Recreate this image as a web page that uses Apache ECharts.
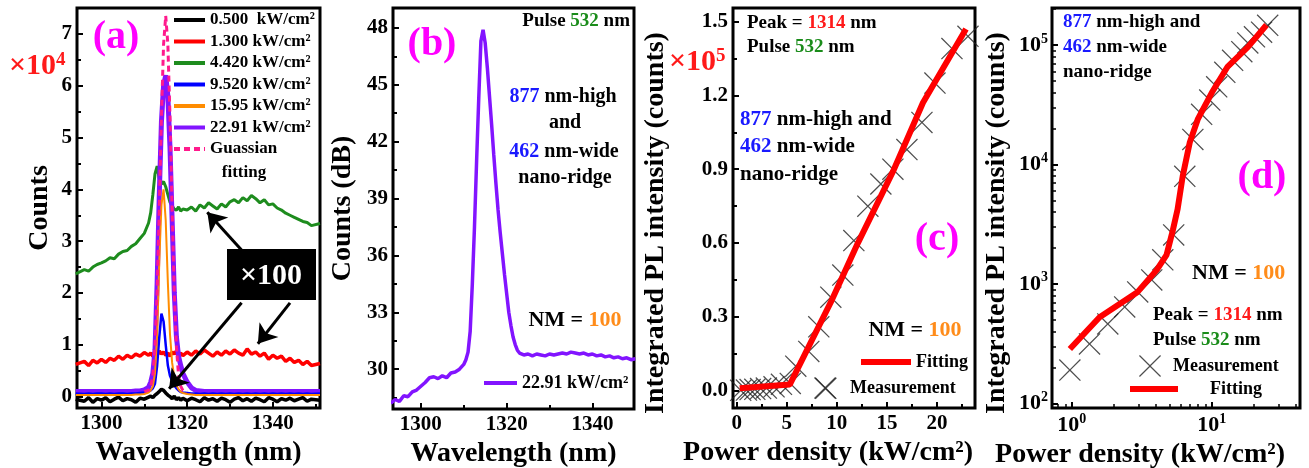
<!DOCTYPE html>
<html>
<head>
<meta charset="utf-8">
<script src="https://cdn.jsdelivr.net/npm/echarts@6/dist/echarts.min.js"></script>
<style>html,body{margin:0;padding:0;background:#fff;}#main{width:1309px;height:468px;}</style>
</head>
<body>
<div id="main"></div>
<script>
var serif = '"Liberation Serif", "Times New Roman", serif';

// (a) spectra, counts in units of 1e4
var aWl = [1294,1296,1297,1298,1299,1300,1301,1302,1303,1304,1305,1306,1307,1308,1309,1310,1311,
  1311.5,1312,1312.5,1313,1313.5,1314,1314.5,1315,1315.5,1316,1316.5,1317,1317.5,1318,1318.5,1319,
  1320,1321,1322,1323,1324,1325,1326,1327,1328,1329,1330,1331,1332,1333,1334,1335,1336,1337,1338,1339,1340,1341,1342,1343,1344,1345,1346,1347,1348,1349,1351];
var aP0500 = [-0.05,-0.09,-0.02,-0.11,-0.04,-0.07,-0.02,-0.1,-0.05,-0.01,-0.08,-0.04,-0.06,-0.11,-0.03,-0.05,-0.01,
  0.01,-0.02,0.03,0.06,0.1,0.14,0.12,0.07,0.03,0.0,-0.04,0.01,-0.06,-0.02,-0.07,-0.03,
  -0.08,-0.03,-0.06,-0.1,-0.02,-0.07,-0.04,-0.09,-0.03,-0.06,-0.11,-0.05,-0.02,-0.08,-0.04,-0.09,-0.03,-0.06,-0.1,-0.02,-0.05,-0.1,-0.04,-0.07,-0.03,-0.08,-0.05,-0.02,-0.09,-0.05,-0.07];
var aP1300 = [0.62,0.68,0.6,0.7,0.65,0.72,0.66,0.74,0.7,0.78,0.72,0.8,0.75,0.82,0.78,0.85,0.8,
  0.84,0.78,0.86,0.8,0.88,0.82,0.86,0.8,0.84,0.78,0.86,0.82,0.88,0.8,0.84,0.79,
  0.86,0.8,0.88,0.82,0.9,0.84,0.78,0.86,0.8,0.88,0.82,0.9,0.84,0.8,0.92,0.82,0.86,0.78,0.84,0.72,0.8,0.74,0.78,0.68,0.74,0.66,0.7,0.62,0.68,0.6,0.64];
var aP4420 = [2.37,2.45,2.42,2.5,2.55,2.58,2.62,2.68,2.66,2.75,2.8,2.82,2.9,2.95,3.05,3.15,3.35,
  3.55,3.9,4.3,4.45,4.2,4.1,4.15,4.05,3.9,3.75,3.68,3.62,3.6,3.66,3.58,3.62,
  3.6,3.66,3.58,3.7,3.64,3.74,3.68,3.62,3.72,3.66,3.76,3.8,3.74,3.84,3.78,3.88,3.82,3.74,3.8,3.7,3.72,3.64,3.6,3.54,3.5,3.46,3.42,3.38,3.36,3.3,3.34];
var aP9520 = [0.06,0.05,0.06,0.05,0.06,0.06,0.05,0.06,0.05,0.06,0.06,0.05,0.06,0.06,0.07,0.08,0.1,
  0.12,0.16,0.25,0.6,1.15,1.6,1.45,1.0,0.6,0.4,0.3,0.22,0.16,0.12,0.09,0.08,
  0.07,0.06,0.06,0.05,0.06,0.05,0.06,0.05,0.06,0.05,0.06,0.05,0.06,0.05,0.06,0.05,0.06,0.05,0.06,0.05,0.06,0.05,0.06,0.05,0.06,0.05,0.06,0.05,0.06,0.05,0.06];
var aP1595 = [0.03,0.03,0.03,0.03,0.03,0.03,0.03,0.03,0.03,0.03,0.03,0.03,0.03,0.04,0.04,0.05,0.08,
  0.12,0.2,0.45,1.2,2.6,3.7,4.0,3.4,2.2,1.2,0.65,0.38,0.22,0.14,0.09,0.07,
  0.05,0.04,0.03,0.03,0.03,0.03,0.03,0.03,0.03,0.03,0.03,0.03,0.03,0.03,0.03,0.03,0.03,0.03,0.03,0.03,0.03,0.03,0.03,0.03,0.03,0.03,0.03,0.03,0.03,0.03,0.03];
var aP2291 = [0.1,0.1,0.1,0.1,0.1,0.1,0.1,0.1,0.1,0.1,0.1,0.1,0.1,0.11,0.11,0.13,0.18,
  0.28,0.45,0.9,2.2,3.9,5.3,6.0,6.2,5.8,4.8,3.4,2.0,1.15,0.78,0.6,0.45,
  0.28,0.17,0.12,0.11,0.1,0.1,0.1,0.1,0.1,0.1,0.1,0.1,0.1,0.1,0.1,0.1,0.1,0.1,0.1,0.1,0.1,0.1,0.1,0.1,0.1,0.1,0.1,0.1,0.1,0.1,0.1];
var gaussWl = [1310,1311,1311.5,1312,1312.5,1313,1313.5,1314,1314.5,1315,1315.5,1316,1316.5,1317,1317.5,1318,1318.5,1319,1320];
var gaussFit = [0.1,0.12,0.2,0.4,0.95,2.0,3.6,5.4,6.8,7.35,6.8,5.4,3.6,2.0,0.95,0.4,0.2,0.12,0.1];
var aNames = ['0.500  kW/cm²','1.300 kW/cm²','4.420 kW/cm²','9.520 kW/cm²','15.95 kW/cm²','22.91 kW/cm²','Guassian fitting'];
// arrows from the x100 box: [fromWl, fromY, toWl, toY]
var arrowsA = [[1332.9,2.81,1324.7,3.56],[1344,1.81,1336.5,1.02],[1332.7,1.81,1315.8,0.15]];

// (b) spectrum in dB
var bWl = [1293,1294,1295,1296,1297,1298,1299,1300,1301,1302,1303,1304,1305,1306,1307,1308,1309,1310,1310.5,1311,
  1311.5,1312,1312.5,1313,1313.5,1314,1314.5,1315,1315.5,1316,1316.5,1317,1317.5,1318,1318.5,1319,1319.5,1320,1320.5,1321,1321.5,1322,1322.5,1323,1324,1325,
  1326,1327,1328,1329,1330,1331,1332,1333,1334,1335,1336,1337,1338,1339,1340,1341,1342,1343,1344,1345,1346,1347,1348,1349,1350];
var bDb = [28.2,28.4,28.3,28.6,28.55,28.8,28.9,29.1,29.3,29.55,29.6,29.5,29.65,29.55,29.8,29.85,30.0,30.25,30.5,30.9,
  32.0,34.5,37.5,41.0,44.3,47.3,47.9,47.2,45.9,44.4,42.9,41.3,39.8,38.4,37.2,36.1,35.0,34.0,33.0,32.3,31.7,31.3,31.0,30.85,30.75,30.8,
  30.7,30.8,30.75,30.7,30.8,30.75,30.8,30.85,30.8,30.9,30.85,30.8,30.85,30.75,30.8,30.7,30.75,30.65,30.7,30.6,30.65,30.55,30.6,30.5,30.55];

// (c) integrated intensity, units of 1e5
var cPow = [0.4,0.97,1.34,1.81,2.39,2.96,3.73,4.47,5.35,5.9,7.2,8.2,9.4,10.6,11.7,13.1,14.4,15.6,17.0,18.5,19.8,21.5,23.1,8.9];
var cInt = [0.002,0.003,0.005,0.006,0.009,0.011,0.016,0.026,0.03,0.10,0.16,0.26,0.38,0.47,0.61,0.75,0.84,0.90,0.98,1.09,1.25,1.39,1.44,0.01];
var cFitPow = [0.3,5.3,9.4,12.1,15.6,18.6,22.9];
var cFitInt = [0.01,0.025,0.36,0.6,0.89,1.17,1.47];

// (d) log-log
var dPow = [0.97,1.34,1.81,2.39,2.96,3.73,4.47,5.35,6.42,7.33,8.47,9.68,10.85,12.4,14.1,16.4,18.1,20.2,22.7,25.1];
var dInt = [190,314,462,642,857,1080,1590,2570,7950,16200,26300,34600,44700,59000,74500,87900,104000,117000,128000,146000];
var dFitPow = [0.97,1.58,2.96,4.05,4.76,5.27,5.7,6.2,6.97,7.94,10,13,18.1,24.6];
var dFitInt = [285,525,857,1310,1750,2800,4200,7950,15300,23800,39800,66000,96000,147000];

function pairs(xs, ys) {
  return xs.map(function (x, i) { return [x, ys[i]]; });
}
function font(size, weight) {
  return (weight || 'bold') + ' ' + size + 'px ' + serif;
}
function richSet(size) {
  return {
    r: { fill: '#ff1a1a', font: font(size) },
    g: { fill: '#1a8c1a', font: font(size) },
    b: { fill: '#1a1aff', font: font(size) },
    o: { fill: '#ff8c1a', font: font(size) },
    s: { fill: '#ff1a1a', font: font(Math.round(size * 0.62)), verticalAlign: 'top' }
  };
}
function txt(x, y, text, size, align, color) {
  return {
    type: 'text', x: x, y: y, silent: true, z: 100,
    style: { text: text, font: font(size), fill: color || '#000', align: align || 'left', verticalAlign: 'middle', rich: richSet(size) }
  };
}
function every(step, digits) {
  return function (v) {
    var k = v / step;
    if (Math.abs(k - Math.round(k)) > 1e-6) return '';
    return digits ? v.toFixed(digits) : String(Math.round(v));
  };
}
function logLabel(v) {
  var e = Math.log10(v), r = Math.round(e);
  if (Math.abs(e - r) > 1e-6) return '';
  return '{n|10}{s|' + r + '}';
}

var nameStyle = { fontFamily: serif, fontWeight: 'bold', fontSize: 28, color: '#000' };
var labelStyle = { fontFamily: serif, fontWeight: 'bold', fontSize: 21, color: '#000', margin: 5 };
var logRich = {
  n: { fontFamily: serif, fontWeight: 'bold', fontSize: 22, color: '#000', lineHeight: 26 },
  s: { fontFamily: serif, fontWeight: 'bold', fontSize: 14, color: '#000', verticalAlign: 'top', lineHeight: 14 }
};

function axis(type, grid, min, max, split, name, gap, fmt, namePad) {
  var ax = {
    type: type, gridIndex: grid, min: min, max: max, splitNumber: split,
    name: name, nameLocation: 'middle', nameGap: gap,
    nameTextStyle: Object.assign({}, nameStyle, namePad ? { padding: namePad } : {}),
    axisLine: { show: false, onZero: false },
    axisTick: { inside: true, length: 6, lineStyle: { color: '#000', width: 2 } },
    minorTick: { show: true, splitNumber: type === 'log' ? 9 : 2, length: 4, lineStyle: { color: '#000', width: 2 } },
    splitLine: { show: false },
    axisLabel: Object.assign({ formatter: fmt }, labelStyle)
  };
  if (type === 'log') {
    ax.logBase = 10;
    ax.axisLabel.rich = logRich;
    ax.axisLabel.margin = 4;
    ax.minorTick.lineStyle.width = 1.5;
  }
  return ax;
}

var legendText = { fontFamily: serif, fontWeight: 'bold', fontSize: 18, lineHeight: 18, color: '#000' };
var noSymbol = { color: 'transparent', borderColor: 'transparent', borderWidth: 0 };
function legendAt(left, top, names, w, h, pad, extra) {
  return Object.assign({
    left: left, top: top, orient: 'vertical', padding: 0, selectedMode: false,
    itemWidth: w, itemHeight: h, itemGap: 3.5, data: names,
    lineStyle: { width: 'inherit' },
    textStyle: Object.assign({}, legendText, pad ? { padding: pad } : {})
  }, extra || {});
}

var crossPath = 'path://M0,0.4L0.4,0L5,4.6L9.6,0L10,0.4L5.4,5L10,9.6L9.6,10L5,5.4L0.4,10L0,9.6L4.6,5Z';

var myChart = echarts.init(document.getElementById('main'));

var lineA = function (name, ys, color, width, extra) {
  return Object.assign({
    name: name, type: 'line', xAxisIndex: 0, yAxisIndex: 0, data: pairs(aWl, ys),
    symbol: 'none', silent: true, lineStyle: { color: color, width: width }, itemStyle: { color: color }
  }, extra || {});
};

var option = {
  animation: false,
  backgroundColor: '#fff',
  grid: [
    { left: 77, top: 8, width: 243, height: 400 },
    { left: 393, top: 8, width: 241, height: 401 },
    { left: 733, top: 8, width: 242, height: 400 },
    { left: 1052, top: 8, width: 248, height: 400 }
  ].map(function (g) {
    return Object.assign(g, { show: true, borderColor: '#000', borderWidth: 3, containLabel: false, outerBoundsMode: 'none' });
  }),
  xAxis: [
    axis('value', 0, 1294.3, 1351, 3, 'Wavelength (nm)', 26, every(20)),
    axis('value', 1, 1293.5, 1349.7, 3, 'Wavelength (nm)', 26, every(20)),
    axis('value', 2, -0.37, 23.8, 5, 'Power density (kW/cm²)', 26, every(5), [0, 52, 0, 0]),
    axis('log', 3, 0.723, 42.7, 5, 'Power density (kW/cm²)', 26, logLabel, [0, 72, 0, 0])
  ],
  yAxis: [
    axis('value', 0, -0.22, 7.5, 8, 'Counts', 23, every(1)),
    axis('value', 1, 27.9, 49.05, 7, 'Counts (dB)', 36, every(3)),
    axis('value', 2, -0.07, 1.555, 5, 'Integrated PL intensity (counts)', 63, every(0.3, 1), [0, 30, 0, 0]),
    axis('log', 3, 91.4, 204000, 5, 'Integrated PL intensity (counts)', 41, logLabel, [0, 30, 0, 0])
  ],
  legend: [
    legendAt(172, 11, aNames, 31, 14, null, {
      itemStyle: noSymbol,
      lineStyle: { width: 4 },
      textStyle: Object.assign({}, legendText, { fontSize: 17 }),
      formatter: function (n) { return n === 'Guassian fitting' ? 'Guassian' : n; }
    }),
    legendAt(482, 374, ['22.91 kW/cm²'], 33, 14, null, { itemStyle: noSymbol, lineStyle: { width: 4 } }),
    legendAt(858, 353, ['Fitting'], 50, 14, null, { itemStyle: noSymbol }),
    legendAt(814, 377, ['Measurement'], 22, 22, [0, 0, 0, 9]),
    legendAt(1139, 355, ['Measurement'], 22, 22, [0, 0, 0, 7]),
    legendAt(1127, 380, ['Fitting'], 48, 14, [0, 0, 0, 27], { itemStyle: noSymbol })
  ],
  series: [
    lineA(aNames[1], aP1300, '#ff0000', 3.5),
    lineA(aNames[2], aP4420, '#1e8c1e', 3),
    lineA(aNames[5], aP2291, '#8214ff', 5),
    lineA(aNames[0], aP0500, '#000000', 3.5, {
      markLine: {
        silent: true, symbol: ['none', 'arrow'], symbolSize: 18, label: { show: false },
        lineStyle: { color: '#000', width: 3, type: 'solid' },
        data: arrowsA.map(function (a) { return [{ coord: [a[0], a[1]] }, { coord: [a[2], a[3]] }]; })
      }
    }),
    lineA(aNames[3], aP9520, '#0000ff', 2.5),
    lineA(aNames[4], aP1595, '#ff8c00', 2),
    {
      name: aNames[6], type: 'line', xAxisIndex: 0, yAxisIndex: 0, data: pairs(gaussWl, gaussFit),
      symbol: 'none', silent: true, lineStyle: { color: '#ff1a8c', width: 3, type: [6, 4] }, itemStyle: { color: '#ff1a8c' }
    },
    {
      name: '22.91 kW/cm² (b)', type: 'line', xAxisIndex: 1, yAxisIndex: 1, data: pairs(bWl, bDb),
      symbol: 'none', silent: true, lineStyle: { color: '#8214ff', width: 3.5 }
    },
    {
      name: 'Measurement', type: 'scatter', xAxisIndex: 2, yAxisIndex: 2, data: pairs(cPow, cInt),
      symbol: crossPath, symbolSize: 22, silent: true, itemStyle: { color: '#222' }
    },
    {
      name: 'Fitting', type: 'line', xAxisIndex: 2, yAxisIndex: 2, data: pairs(cFitPow, cFitInt),
      symbol: 'none', silent: true, lineStyle: { color: '#ff0000', width: 6 }, itemStyle: { color: '#ff0000' }
    },
    {
      name: 'Measurement', type: 'scatter', xAxisIndex: 3, yAxisIndex: 3, data: pairs(dPow, dInt),
      symbol: crossPath, symbolSize: 22, silent: true, itemStyle: { color: '#222' }
    },
    {
      name: 'Fitting', type: 'line', xAxisIndex: 3, yAxisIndex: 3, data: pairs(dFitPow, dFitInt),
      symbol: 'none', silent: true, lineStyle: { color: '#ff0000', width: 6 }, itemStyle: { color: '#ff0000' }
    }
  ],
  graphic: [
    // (a)
    txt(116, 38, '(a)', 40, 'center', '#ff00ff'),
    txt(9, 66, '×10{s|4}', 30, 'left', '#ff1a1a'),
    txt(244, 173, 'fitting', 17, 'center'),
    { type: 'rect', shape: { x: 227, y: 249, width: 89, height: 51 }, style: { fill: '#000' }, silent: true, z: 99 },
    txt(271, 276, '×100', 30, 'center', '#fff'),
    // (b)
    txt(432, 45, '(b)', 40, 'center', '#ff00ff'),
    txt(630, 21, 'Pulse {g|532} nm', 19, 'right'),
    txt(563, 97, '{b|877} nm-high', 20, 'center'),
    txt(565, 123, 'and', 20, 'center'),
    txt(564, 152, '{b|462} nm-wide', 20, 'center'),
    txt(565, 178, 'nano-ridge', 20, 'center'),
    txt(575, 320, 'NM = {o|100}', 22, 'center'),
    // (c)
    txt(669, 62, '×10{s|5}', 30, 'left', '#ff1a1a'),
    txt(747, 23, 'Peak = {r|1314} nm', 19),
    txt(747, 47, 'Pulse {g|532} nm', 19),
    txt(740, 120, '{b|877} nm-high and', 21),
    txt(740, 147, '{b|462} nm-wide', 21),
    txt(740, 175, 'nano-ridge', 21),
    txt(937, 240, '(c)', 40, 'center', '#ff00ff'),
    txt(915, 330, 'NM = {o|100}', 22, 'center'),
    // (d)
    txt(1063, 22, '{b|877} nm-high and', 19),
    txt(1063, 47, '{b|462} nm-wide', 19),
    txt(1063, 72, 'nano-ridge', 19),
    txt(1262, 178, '(d)', 40, 'center', '#ff00ff'),
    txt(1192, 273, 'NM = {o|100}', 22),
    txt(1153, 315, 'Peak = {r|1314} nm', 19),
    txt(1153, 340, 'Pulse {g|532} nm', 19)
  ]
};

myChart.setOption(option);
</script>
</body>
</html>
